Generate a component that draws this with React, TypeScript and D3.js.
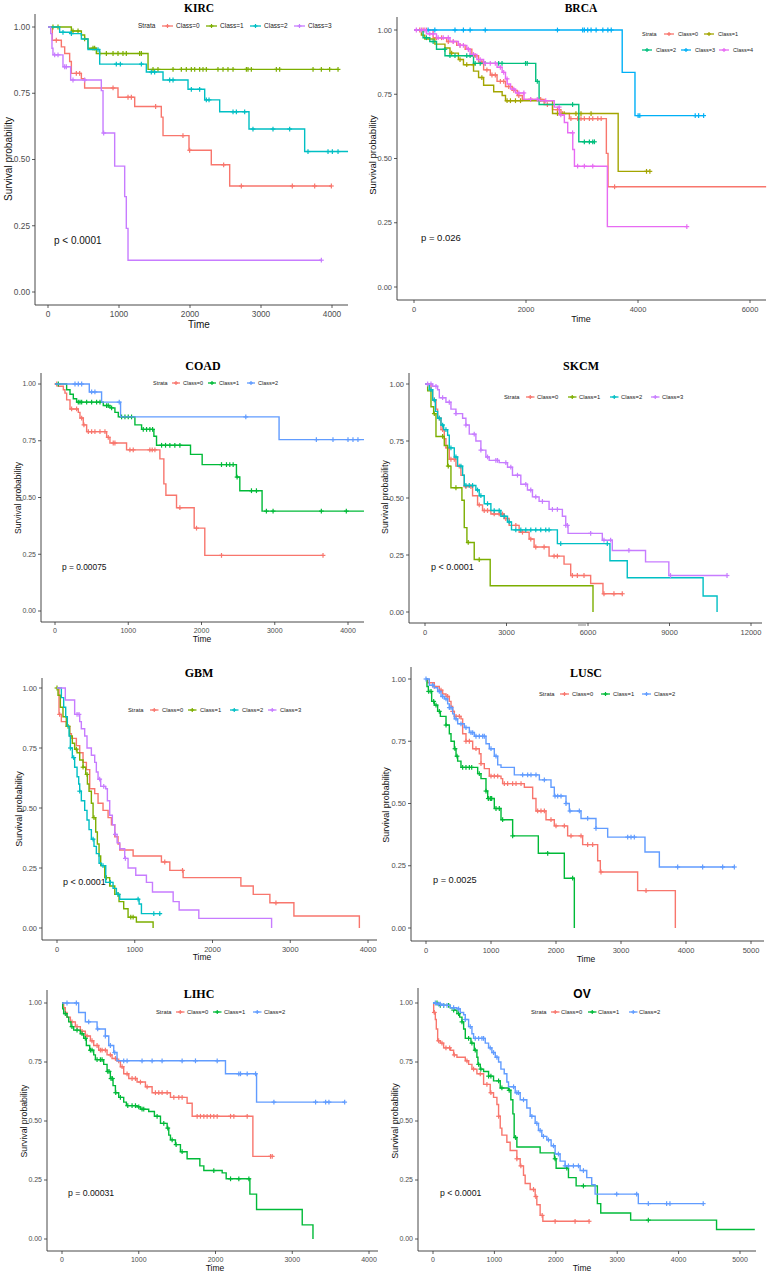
import React from "react";
import * as d3 from "d3";

type Step = [number, number];

// ---- strata labels & ggplot hue palettes ----
const classes3 = ["Class=0", "Class=1", "Class=2"];
const classes4 = ["Class=0", "Class=1", "Class=2", "Class=3"];
const classes5 = ["Class=0", "Class=1", "Class=2", "Class=3", "Class=4"];
const hue3 = ["#F8766D", "#00BA38", "#619CFF"];
const hue4 = ["#F8766D", "#7CAE00", "#00BFC4", "#C77CFF"];
const hue5 = ["#F8766D", "#A3A500", "#00BF7D", "#00B0F6", "#E76BF3"];
const yTickValues = [0, 0.25, 0.5, 0.75, 1];

// ---- KIRC ----
const kirc0: Step[] = [[61,0.95],[188,0.925],[235,0.9],[305,0.87],[329,0.825],[470,0.805],[516,0.77],[986,0.735],[1221,0.7],[1596,0.66],[1620,0.59],[1986,0.535],[2300,0.48],[2559,0.4],[3991,0.4]];
const kirc0Cens = [117,399,446,916,1127,1174,1516,1901,1995,2474,2723,3441,3756,3991];
const kirc1: Step[] = [[329,0.985],[470,0.97],[516,0.955],[563,0.92],[681,0.9],[1409,0.84],[4085,0.84]];
const kirc1Cens = [70,141,352,423,516,634,657,728,822,916,986,1056,1103,1291,1315,1479,1549,1761,1878,1948,2019,2066,2136,2183,2230,2394,2465,2535,2606,2794,2817,2864,3216,3263,3733,3850,3967,4085];
const kirc2: Step[] = [[164,0.98],[329,0.975],[470,0.955],[563,0.915],[728,0.86],[1385,0.83],[1620,0.8],[1972,0.765],[2207,0.725],[2418,0.68],[2831,0.615],[3615,0.53],[4226,0.53]];
const kirc2Cens = [211,329,704,962,1019,1315,1455,1502,1714,1761,2019,2136,2230,2268,2606,2653,2770,2887,3169,3404,3662,3944,4005,4085];
const kirc3: Step[] = [[38,0.975],[56,0.92],[70,0.895],[211,0.85],[319,0.8],[751,0.76],[775,0.6],[939,0.475],[1080,0.36],[1103,0.24],[1127,0.12],[3850,0.12]];
const kirc3Cens = [94,141,235,258,352,516,784,3850];

// ---- BRCA ----
const brca0: Step[] = [[342,0.97],[583,0.955],[763,0.94],[913,0.925],[1033,0.9],[1153,0.875],[1243,0.845],[1363,0.825],[1483,0.8],[1634,0.78],[1754,0.765],[1844,0.745],[1934,0.73],[2324,0.71],[2474,0.69],[2625,0.675],[2775,0.655],[3435,0.52],[3465,0.39],[6288,0.39]];
const brca0Cens = [102,162,222,402,492,612,702,822,972,1092,1212,1302,1392,1452,1542,1602,1692,1782,1872,2082,2262,2382,2562,2652,2802,2922,2982,3042,3132,3192,3282,3342,3582];
const brca1: Step[] = [[132,0.98],[192,0.965],[372,0.945],[553,0.93],[643,0.91],[793,0.885],[883,0.865],[1063,0.84],[1153,0.815],[1243,0.785],[1423,0.76],[1574,0.745],[1634,0.725],[2474,0.675],[3646,0.45],[4216,0.45]];
const brca1Cens = [672,822,942,1062,1212,1662,1722,1812,1902,2562,2682,2892,2982,3162,4152,4212];
const brca2: Step[] = [[162,0.97],[282,0.955],[402,0.925],[553,0.9],[1063,0.87],[2174,0.8],[2234,0.71],[2943,0.565],[3225,0.565]];
const brca2Cens = [222,342,552,642,732,942,1002,1092,1182,1272,1512,1572,1992,2022,2202,2832,3042,3132,3192,3222];
const brca3: Step[] = [[3718,0.835],[3946,0.667],[5177,0.667]];
const brca3Cens = [252,372,732,882,1002,1272,2562,3012,3042,3102,3162,3252,3372,3462,3522,4002,4032,5022,5082,5172];
const brca4: Step[] = [[222,0.985],[402,0.97],[643,0.955],[793,0.94],[943,0.925],[1003,0.905],[1123,0.885],[1243,0.87],[1483,0.855],[1574,0.835],[1634,0.81],[1664,0.79],[1724,0.77],[1814,0.755],[1964,0.73],[2234,0.725],[2504,0.7],[2595,0.67],[2685,0.64],[2745,0.6],[2835,0.535],[2865,0.47],[3453,0.235],[4877,0.235]];
const brca4Cens = [42,132,192,282,342,432,522,612,702,822,882,972,1062,1182,1272,1362,1452,1542,1602,1662,1782,1872,1962,2082,2202,2352,2592,2622,2832,2922,3042,3192,4872];

// ---- COAD ----
const coad0: Step[] = [[45,0.99],[114,0.975],[136,0.96],[159,0.93],[205,0.89],[318,0.875],[341,0.85],[386,0.82],[432,0.79],[705,0.765],[750,0.74],[977,0.71],[1432,0.67],[1486,0.56],[1514,0.51],[1659,0.455],[1900,0.365],[2045,0.245],[3659,0.245]];
const coad0Cens = [23,227,295,364,395,455,500,545,614,682,727,795,818,1023,1068,1295,1327,1364,1705,1932,2273,3659];
const coad1: Step[] = [[159,0.975],[205,0.955],[250,0.935],[295,0.92],[659,0.905],[750,0.895],[818,0.875],[864,0.855],[1091,0.82],[1182,0.8],[1350,0.77],[1386,0.73],[1850,0.69],[2009,0.645],[2477,0.59],[2523,0.53],[2827,0.44],[4218,0.44]];
const coad1Cens = [45,318,341,364,432,500,568,614,705,727,773,909,955,1000,1045,1205,1250,1295,1332,1455,1509,1568,1636,1705,2273,2341,2386,2432,2486,2682,2750,2886,2977,3636,3977];
const coad2: Step[] = [[468,0.965],[636,0.92],[895,0.855],[3059,0.755],[4218,0.755]];
const coad2Cens = [273,318,364,500,545,877,2605,3568,3795,4000,4068,4136];

// ---- SKCM ----
const skcm0: Step[] = [[220,0.97],[282,0.93],[404,0.89],[465,0.85],[588,0.8],[710,0.76],[771,0.72],[894,0.67],[1139,0.64],[1322,0.6],[1445,0.55],[1751,0.51],[1935,0.47],[2118,0.445],[2425,0.43],[2914,0.41],[3098,0.38],[3465,0.35],[3833,0.32],[4016,0.285],[4567,0.245],[5118,0.21],[5363,0.16],[6098,0.125],[6551,0.08],[7261,0.08]];
const skcm0Cens = [343,527,649,833,955,1078,1261,1506,1690,1996,2180,2302,2547,2731,2853,2976,3343,3588,3894,4078,4384,4751,4873,5424,5608,5853,6588,6955,7261];
const skcm1: Step[] = [[98,0.97],[220,0.9],[318,0.87],[404,0.77],[710,0.73],[833,0.64],[955,0.545],[1359,0.49],[1445,0.37],[1543,0.305],[1812,0.23],[2400,0.115],[6184,0]];
const skcm1Cens = [343,649,857,1139,1592,1996];
const skcm2: Step[] = [[159,0.975],[282,0.93],[380,0.88],[465,0.85],[588,0.82],[686,0.8],[833,0.775],[894,0.72],[1078,0.68],[1200,0.64],[1384,0.6],[1445,0.555],[1873,0.535],[1996,0.51],[2180,0.475],[2425,0.445],[2792,0.42],[3037,0.395],[3184,0.36],[4873,0.3],[6808,0.225],[7445,0.15],[10237,0.07],[10751,0]];
const skcm2Cens = [220,343,527,649,771,955,1139,1322,1506,1629,1751,1935,2057,2302,2547,2731,2914,3098,3343,3527,3710,3894,4078,4261,4445,4567,4996,6710];
const skcm3: Step[] = [[282,0.99],[465,0.975],[527,0.94],[771,0.92],[955,0.89],[1139,0.87],[1384,0.85],[1506,0.82],[1629,0.78],[1873,0.75],[2057,0.71],[2241,0.68],[2363,0.665],[2731,0.655],[3037,0.635],[3220,0.6],[3527,0.56],[3771,0.535],[3955,0.505],[4200,0.485],[4567,0.45],[5057,0.42],[5180,0.38],[5265,0.345],[6527,0.315],[6894,0.27],[8118,0.22],[8976,0.16],[11118,0.16]];
const skcm3Cens = [98,220,404,649,894,1139,1506,1812,2057,2302,2608,2669,2976,3159,3404,3710,3894,4078,4322,4690,4873,5180,5241,6098,6588,6833,7506,9037,11118];

// ---- GBM ----
const gbm0: Step[] = [[26,0.89],[56,0.86],[120,0.84],[163,0.81],[185,0.79],[249,0.76],[292,0.73],[335,0.69],[378,0.66],[421,0.58],[485,0.56],[528,0.52],[592,0.49],[657,0.46],[700,0.43],[743,0.38],[785,0.35],[807,0.325],[979,0.3],[1343,0.275],[1451,0.24],[1622,0.21],[2365,0.175],[2524,0.14],[2738,0.105],[3047,0.05],[3889,0]];
const gbm0Cens = [34,1386,1614,2816];
const gbm1: Step[] = [[13,0.97],[43,0.92],[77,0.88],[120,0.84],[163,0.8],[197,0.77],[227,0.745],[258,0.73],[292,0.7],[335,0.67],[369,0.64],[391,0.6],[412,0.57],[442,0.52],[464,0.46],[498,0.4],[519,0.35],[541,0.3],[562,0.26],[614,0.21],[678,0.175],[743,0.14],[798,0.11],[858,0.08],[914,0.045],[1021,0.025],[1236,0]];
const gbm1Cens = [0,142,249,335,386,476,635,785,949,979];
const gbm2: Step[] = [[56,0.96],[86,0.92],[112,0.88],[133,0.84],[155,0.8],[172,0.75],[197,0.71],[227,0.67],[258,0.63],[279,0.6],[292,0.57],[313,0.53],[356,0.49],[386,0.45],[412,0.41],[442,0.37],[476,0.34],[506,0.31],[541,0.27],[571,0.26],[627,0.19],[721,0.165],[764,0.14],[807,0.12],[1056,0.1],[1086,0.06],[1343,0.06]];
const gbm2Cens = [172,215,292,464,592,687,785,1043,1245,1322];
const gbm3: Step[] = [[107,0.95],[227,0.89],[292,0.86],[313,0.83],[356,0.8],[386,0.75],[442,0.72],[485,0.69],[506,0.65],[528,0.62],[562,0.59],[627,0.58],[648,0.53],[678,0.47],[712,0.43],[743,0.39],[773,0.355],[807,0.33],[871,0.29],[914,0.25],[1013,0.22],[1150,0.19],[1228,0.15],[1494,0.11],[1571,0.075],[1824,0.04],[2760,0]];
const gbm3Cens = [258,283,549,601,751,880];

// ---- LUSC ----
const lusc0: Step[] = [[26,0.985],[128,0.97],[205,0.955],[256,0.94],[308,0.93],[359,0.91],[385,0.89],[410,0.87],[436,0.85],[538,0.84],[564,0.78],[615,0.75],[718,0.72],[820,0.7],[846,0.66],[897,0.64],[974,0.61],[1154,0.6],[1179,0.58],[1513,0.565],[1641,0.52],[1692,0.47],[1846,0.435],[1974,0.41],[2179,0.37],[2410,0.335],[2641,0.27],[2682,0.225],[3256,0.15],[3836,0]];
const lusc0Cens = [128,231,333,410,462,513,615,667,769,846,1000,1051,1103,1205,1256,1333,1385,1462,1718,1769,1821,1923,2000,2128,2231,2385,2487,2564,2692,3385];
const lusc1: Step[] = [[15,0.97],[36,0.95],[87,0.91],[128,0.895],[179,0.87],[221,0.85],[308,0.815],[359,0.78],[385,0.75],[436,0.72],[462,0.69],[487,0.67],[538,0.645],[795,0.62],[846,0.6],[923,0.55],[949,0.52],[1051,0.48],[1154,0.435],[1333,0.37],[1728,0.3],[2128,0.2],[2282,0]];
const lusc1Cens = [41,77,118,154,205,308,446,477,564,615,667,703,820,923,959,990,1010,1077,1128,1179,1333,1872,2256];
const lusc2: Step[] = [[51,0.975],[128,0.965],[179,0.95],[231,0.93],[282,0.92],[333,0.9],[359,0.885],[410,0.86],[436,0.84],[487,0.82],[590,0.805],[667,0.785],[744,0.77],[923,0.74],[974,0.72],[1051,0.69],[1103,0.655],[1154,0.645],[1359,0.615],[1744,0.595],[1923,0.565],[1974,0.53],[2154,0.5],[2205,0.47],[2385,0.44],[2615,0.4],[2795,0.365],[3369,0.305],[3590,0.245],[4744,0.245]];
const lusc2Cens = [0,103,205,256,308,359,385,462,538,615,692,718,769,820,872,897,1000,1077,1487,1564,1615,1692,1821,1985,2026,2077,2154,2215,2359,2487,2615,3103,3154,3205,3872,4256,4564,4744];

// ---- LIHC ----
const lihc0: Step[] = [[22,0.98],[43,0.96],[65,0.94],[109,0.92],[174,0.9],[239,0.88],[304,0.86],[370,0.84],[413,0.82],[478,0.8],[587,0.78],[652,0.765],[717,0.755],[761,0.73],[804,0.7],[870,0.68],[978,0.665],[1087,0.645],[1174,0.62],[1413,0.6],[1630,0.575],[1696,0.52],[2487,0.35],[2761,0.35]];
const lihc0Cens = [130,196,261,326,391,457,500,522,565,630,696,739,783,848,913,957,1022,1109,1217,1261,1304,1370,1457,1522,1565,1761,1804,1848,1891,1935,1978,2022,2196,2239,2413,2717,2739];
const lihc1: Step[] = [[9,0.975],[22,0.955],[65,0.94],[87,0.92],[117,0.9],[152,0.885],[239,0.87],[283,0.85],[317,0.82],[361,0.8],[413,0.78],[435,0.76],[543,0.74],[587,0.71],[630,0.68],[665,0.65],[696,0.62],[739,0.6],[804,0.58],[839,0.565],[978,0.56],[1022,0.55],[1130,0.54],[1204,0.52],[1283,0.49],[1370,0.47],[1391,0.44],[1413,0.42],[1478,0.4],[1543,0.37],[1630,0.34],[1796,0.31],[1848,0.29],[2087,0.28],[2139,0.255],[2448,0.19],[2535,0.125],[3130,0.06],[3270,0]];
const lihc1Cens = [43,130,196,261,304,370,391,457,500,522,596,613,639,657,700,761,857,913,957,1000,1043,1065,1239,1326,1378,1435,1487,1565,1978,2196,2304,2435];
const lihc2: Step[] = [[217,0.96],[304,0.92],[457,0.89],[565,0.86],[609,0.82],[674,0.79],[717,0.755],[2130,0.7],[2535,0.58],[3683,0.58]];
const lihc2Cens = [65,187,348,465,565,630,687,804,848,1043,1174,1304,1565,1739,2022,2304,2326,2413,2522,2761,3304,3435,3478,3683];

// ---- OV ----
const ov0: Step[] = [[11,0.96],[38,0.93],[54,0.89],[76,0.84],[119,0.83],[173,0.81],[282,0.8],[336,0.78],[390,0.77],[526,0.755],[580,0.74],[634,0.72],[715,0.7],[824,0.655],[932,0.62],[986,0.6],[1041,0.57],[1068,0.52],[1095,0.47],[1122,0.44],[1203,0.41],[1257,0.375],[1366,0.34],[1420,0.31],[1474,0.27],[1501,0.235],[1583,0.21],[1664,0.18],[1691,0.145],[1745,0.1],[1789,0.075],[2542,0.075]];
const ov0Cens = [22,92,146,211,271,347,553,661,770,878,943,1068,1366,1431,1637,1675,1778,1989,2314,2542];
const ov1: Step[] = [[92,0.99],[282,0.98],[336,0.97],[390,0.955],[434,0.94],[472,0.92],[499,0.89],[526,0.85],[618,0.83],[672,0.8],[715,0.77],[732,0.74],[770,0.72],[824,0.71],[905,0.69],[986,0.67],[1095,0.64],[1230,0.63],[1268,0.59],[1301,0.53],[1322,0.43],[1366,0.39],[1745,0.365],[1978,0.34],[2005,0.3],[2206,0.26],[2331,0.225],[2677,0.15],[2732,0.11],[3219,0.08],[4618,0.04],[5241,0.04]];
const ov1Cens = [65,119,173,255,336,417,472,580,634,688,743,780,905,943,1068,1122,1241,1344,1989,2179,2450,3507];
const ov2: Step[] = [[65,0.995],[146,0.99],[282,0.98],[390,0.975],[444,0.96],[499,0.95],[526,0.93],[580,0.9],[634,0.87],[661,0.85],[851,0.83],[905,0.81],[959,0.79],[1014,0.77],[1068,0.75],[1106,0.72],[1160,0.7],[1203,0.665],[1230,0.645],[1339,0.62],[1420,0.59],[1528,0.555],[1583,0.52],[1664,0.49],[1718,0.46],[1772,0.435],[1854,0.42],[1924,0.395],[1989,0.36],[2070,0.33],[2152,0.31],[2396,0.29],[2504,0.26],[2585,0.23],[2640,0.19],[3344,0.15],[4401,0.15]];
const ov2Cens = [38,92,119,173,228,336,417,526,607,688,743,797,824,932,986,1041,1312,1366,1393,1474,1610,1691,1745,1799,1881,1962,2043,2152,2206,2287,2369,2450,2992,3317,3507,3805,3859,4401];

// ---- panel layout (pixel geometry of each sub-plot) ----
interface Legend {
  x: number; y: number; key: number[]; rowY: number[]; keyW: number; textOff: number; font: number;
}
interface Panel {
  title: string; titleX: number; titleY: number; titleFont: number; titleSans?: boolean;
  left: number; top: number; right: number; bottom: number;
  x0: number; xEnd: number; xTicks: number[]; y0: number; y1: number; tickFont: number;
  ylabX: number; ylabY: number; ylabFont: number;
  timeX: number | null; timeY: number; timeFont: number;
  pText: string; pX: number; pY: number; pFont: number;
  legend: Legend;
  names: string[]; colors: string[]; steps: Step[][]; cens: number[][];
}

const panels: Panel[] = [
  {
    title: "KIRC", titleX: 199, titleY: 12, titleFont: 11.5,
    left: 35, top: 14, right: 348, bottom: 305,
    x0: 48, xEnd: 332, xTicks: [0, 1000, 2000, 3000, 4000], y0: 292, y1: 27, tickFont: 8.3,
    ylabX: 8, ylabY: 159, ylabFont: 10, timeX: 199, timeY: 328, timeFont: 10,
    pText: "p < 0.0001", pX: 54, pY: 240, pFont: 10,
    legend: { x: 138, y: 26, key: [162, 206, 250, 294], rowY: [26, 26, 26, 26], keyW: 11, textOff: 14, font: 6.5 },
    names: classes4, colors: hue4, steps: [kirc0, kirc1, kirc2, kirc3], cens: [kirc0Cens, kirc1Cens, kirc2Cens, kirc3Cens],
  },
  {
    title: "BRCA", titleX: 581, titleY: 12, titleFont: 11.5,
    left: 397, top: 17, right: 766, bottom: 300,
    x0: 414, xEnd: 750, xTicks: [0, 2000, 4000, 6000], y0: 287, y1: 30, tickFont: 7.5,
    ylabX: 373, ylabY: 155, ylabFont: 9.5, timeX: 581, timeY: 322, timeFont: 9,
    pText: "p = 0.026", pX: 421, pY: 238, pFont: 9.5,
    legend: { x: 642, y: 34, key: [664, 704, 642, 681, 719], rowY: [34, 34, 50, 50, 50], keyW: 10, textOff: 14, font: 5.5 },
    names: classes5, colors: hue5, steps: [brca0, brca1, brca2, brca3, brca4], cens: [brca0Cens, brca1Cens, brca2Cens, brca3Cens, brca4Cens],
  },
  {
    title: "COAD", titleX: 203, titleY: 370, titleFont: 12,
    left: 41, top: 373, right: 364, bottom: 622,
    x0: 55, xEnd: 348, xTicks: [0, 1000, 2000, 3000, 4000], y0: 611, y1: 384, tickFont: 7,
    ylabX: 18, ylabY: 498, ylabFont: 8.6, timeX: 202, timeY: 642, timeFont: 8.5,
    pText: "p = 0.00075", pX: 62, pY: 567, pFont: 8.4,
    legend: { x: 153, y: 383, key: [172, 208, 247], rowY: [383, 383, 383], keyW: 8, textOff: 11, font: 5.5 },
    names: classes3, colors: hue3, steps: [coad0, coad1, coad2], cens: [coad0Cens, coad1Cens, coad2Cens],
  },
  {
    title: "SKCM", titleX: 581, titleY: 370, titleFont: 12,
    left: 409, top: 373, right: 762, bottom: 623,
    x0: 425, xEnd: 751, xTicks: [0, 3000, 6000, 9000, 12000], y0: 612, y1: 384, tickFont: 7.5,
    ylabX: 385, ylabY: 497, ylabFont: 8.8, timeX: null, timeY: 642, timeFont: 8.5,
    pText: "p < 0.0001", pX: 431, pY: 567, pFont: 9,
    legend: { x: 504, y: 397, key: [526, 568, 610, 651], rowY: [397, 397, 397, 397], keyW: 8.5, textOff: 11, font: 5.8 },
    names: classes4, colors: hue4, steps: [skcm0, skcm1, skcm2, skcm3], cens: [skcm0Cens, skcm1Cens, skcm2Cens, skcm3Cens],
  },
  {
    title: "GBM", titleX: 199, titleY: 677, titleFont: 12,
    left: 42, top: 678, right: 377, bottom: 940,
    x0: 57, xEnd: 368, xTicks: [0, 1000, 2000, 3000, 4000], y0: 928, y1: 688, tickFont: 7.5,
    ylabX: 19, ylabY: 809, ylabFont: 9, timeX: 202, timeY: 960, timeFont: 8.5,
    pText: "p < 0.0001", pX: 63, pY: 882, pFont: 9,
    legend: { x: 128, y: 710, key: [150, 188, 230, 268], rowY: [710, 710, 710, 710], keyW: 8.5, textOff: 12, font: 5.8 },
    names: classes4, colors: hue4, steps: [gbm0, gbm1, gbm2, gbm3], cens: [gbm0Cens, gbm1Cens, gbm2Cens, gbm3Cens],
  },
  {
    title: "LUSC", titleX: 586, titleY: 677, titleFont: 12,
    left: 411, top: 667, right: 764, bottom: 941,
    x0: 426, xEnd: 751, xTicks: [0, 1000, 2000, 3000, 4000, 5000], y0: 928, y1: 679, tickFont: 7.5,
    ylabX: 386, ylabY: 805, ylabFont: 9, timeX: 586, timeY: 962, timeFont: 8.5,
    pText: "p = 0.0025", pX: 433, pY: 880, pFont: 9.2,
    legend: { x: 539, y: 694, key: [560, 601, 642], rowY: [694, 694, 694], keyW: 9, textOff: 12, font: 5.8 },
    names: classes3, colors: hue3, steps: [lusc0, lusc1, lusc2], cens: [lusc0Cens, lusc1Cens, lusc2Cens],
  },
  {
    title: "LIHC", titleX: 199, titleY: 998, titleFont: 12,
    left: 47, top: 990, right: 378, bottom: 1251,
    x0: 62, xEnd: 369, xTicks: [0, 1000, 2000, 3000, 4000], y0: 1239, y1: 1003, tickFont: 7,
    ylabX: 24, ylabY: 1121, ylabFont: 8.7, timeX: 215, timeY: 1271, timeFont: 8.5,
    pText: "p = 0.00031", pX: 68, pY: 1193, pFont: 8.7,
    legend: { x: 156, y: 1012, key: [176, 213, 253], rowY: [1012, 1012, 1012], keyW: 8.5, textOff: 11, font: 5.8 },
    names: classes3, colors: hue3, steps: [lihc0, lihc1, lihc2], cens: [lihc0Cens, lihc1Cens, lihc2Cens],
  },
  {
    title: "OV", titleX: 582, titleY: 998, titleFont: 12, titleSans: true,
    left: 418, top: 988, right: 756, bottom: 1251,
    x0: 433, xEnd: 740, xTicks: [0, 1000, 2000, 3000, 4000, 5000], y0: 1239, y1: 1003, tickFont: 7,
    ylabX: 395, ylabY: 1121, ylabFont: 9, timeX: 582, timeY: 1271, timeFont: 8.5,
    pText: "p < 0.0001", pX: 440, pY: 1193, pFont: 8.7,
    legend: { x: 531, y: 1012, key: [551, 588, 629], rowY: [1012, 1012, 1012], keyW: 8.5, textOff: 10, font: 5.8 },
    names: classes3, colors: hue3, steps: [ov0, ov1, ov2], cens: [ov0Cens, ov1Cens, ov2Cens],
  },
];

const SANS = "'Liberation Sans', Arial, Helvetica, sans-serif";
const SERIF = "'Liberation Serif', 'Times New Roman', serif";

// KM value right after time t
function survAt(steps: Step[], t: number) {
  let s = 1;
  for (const [ti, si] of steps) if (ti <= t) s = si;
  return s;
}

function Cross({ x, y, r, color }: { x: number; y: number; r: number; color: string }) {
  return (
    <g stroke={color} strokeWidth={1.2}>
      <line x1={x - r} x2={x + r} y1={y} y2={y} />
      <line x1={x} x2={x} y1={y - r} y2={y + r} />
    </g>
  );
}

function KMPanel({ p }: { p: Panel }) {
  const x = d3.scaleLinear().domain([0, p.xTicks[p.xTicks.length - 1]]).range([p.x0, p.xEnd]);
  const y = d3.scaleLinear().domain([0, 1]).range([p.y0, p.y1]);
  const line = d3.line<Step>().x(d => x(d[0])).y(d => y(d[1])).curve(d3.curveStepAfter);
  const fmt = d3.format(".2f");
  const lg = p.legend;

  return (
    <g>
      {/* curves */}
      {p.steps.map((st, i) => (
        <g key={i}>
          <path d={line([[0, 1], ...st]) || ""} fill="none" stroke={p.colors[i]} strokeWidth={1.4} />
          {p.cens[i].map((t, j) => (
            <Cross key={j} x={x(t)} y={y(survAt(st, t))} r={2.4} color={p.colors[i]} />
          ))}
        </g>
      ))}

      {/* axes */}
      <line x1={p.left} x2={p.left} y1={p.top} y2={p.bottom} stroke="#333" strokeWidth={0.9} />
      <line x1={p.left} x2={p.right} y1={p.bottom} y2={p.bottom} stroke="#333" strokeWidth={0.9} />
      {yTickValues.map(v => (
        <g key={v}>
          <line x1={p.left - 3} x2={p.left} y1={y(v)} y2={y(v)} stroke="#333" strokeWidth={0.8} />
          <text x={p.left - 5} y={y(v)} dy="0.35em" textAnchor="end" fontSize={p.tickFont} fill="#4D4D4D" fontFamily={SANS}>
            {fmt(v)}
          </text>
        </g>
      ))}
      {p.xTicks.map(v => (
        <g key={v}>
          <line x1={x(v)} x2={x(v)} y1={p.bottom} y2={p.bottom + 3} stroke="#333" strokeWidth={0.8} />
          <text x={x(v)} y={p.bottom + 4 + p.tickFont} textAnchor="middle" fontSize={p.tickFont} fill="#4D4D4D" fontFamily={SANS}>
            {v}
          </text>
        </g>
      ))}

      {/* labels */}
      <text
        transform={`translate(${p.ylabX},${p.ylabY}) rotate(-90)`}
        dy="0.35em" textAnchor="middle" fontSize={p.ylabFont} fontFamily={SANS} fill="#111"
      >
        Survival probability
      </text>
      {p.timeX !== null ? (
        <text x={p.timeX} y={p.timeY} textAnchor="middle" fontSize={p.timeFont} fontFamily={SANS} fill="#111">Time</text>
      ) : (
        <line x1={578} x2={586} y1={625} y2={625} stroke="#666" strokeWidth={0.8} />
      )}
      <text x={p.titleX} y={p.titleY} textAnchor="middle" fontSize={p.titleFont} fontWeight="bold"
        fontFamily={p.titleSans ? SANS : SERIF} fill="#000">
        {p.title}
      </text>
      <text x={p.pX} y={p.pY} dy="0.35em" fontSize={p.pFont} fontFamily={SANS} fill="#111">{p.pText}</text>

      {/* legend */}
      <text x={lg.x} y={lg.y} dy="0.35em" fontSize={lg.font} fontFamily={SANS} fill="#222">Strata</text>
      {p.names.map((n, i) => {
        const kx = lg.key[i];
        const ky = lg.rowY[i];
        return (
          <g key={n}>
            <line x1={kx} x2={kx + lg.keyW} y1={ky} y2={ky} stroke={p.colors[i]} strokeWidth={1.3} />
            <Cross x={kx + lg.keyW / 2} y={ky} r={2} color={p.colors[i]} />
            <text x={kx + lg.textOff} y={ky} dy="0.35em" fontSize={lg.font} fontFamily={SANS} fill="#222">{n}</text>
          </g>
        );
      })}
    </g>
  );
}

export default function App() {
  return (
    <svg
      width={768}
      height={1273}
      viewBox="0 0 768 1273"
      style={{ position: "absolute", left: 0, top: 0, background: "#fff" }}
    >
      <rect width={768} height={1273} fill="#fff" />
      {panels.map(p => (
        <KMPanel key={p.title} p={p} />
      ))}
    </svg>
  );
}
